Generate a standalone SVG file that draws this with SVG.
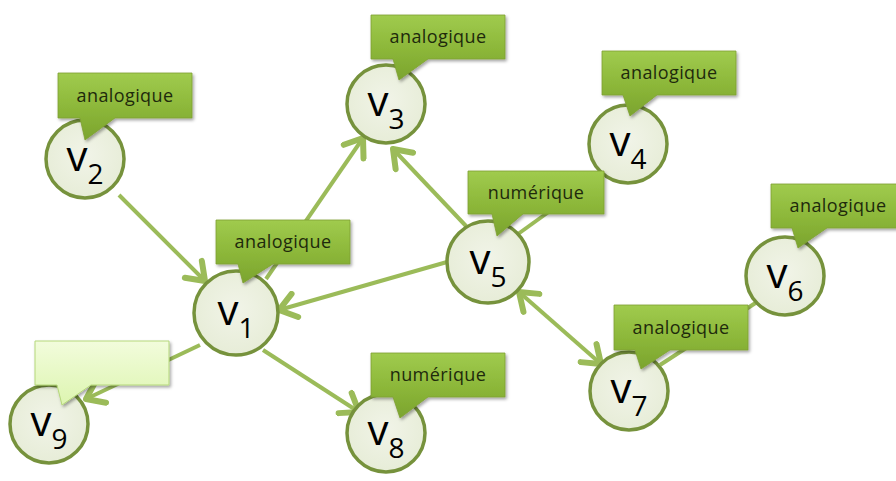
<svg xmlns="http://www.w3.org/2000/svg" width="896" height="481" viewBox="0 0 896 481">
<defs>
  <linearGradient id="gCall" x1="0" y1="0" x2="0" y2="1">
    <stop offset="0" stop-color="#A0CB4E"/>
    <stop offset="0.5" stop-color="#8DB83A"/>
    <stop offset="1" stop-color="#7BA42E"/>
  </linearGradient>
  <linearGradient id="gLight" x1="0" y1="0" x2="0" y2="1">
    <stop offset="0" stop-color="#F2FCDC"/>
    <stop offset="1" stop-color="#DDF5B0"/>
  </linearGradient>
  <radialGradient id="gNode" cx="0.5" cy="0.45" r="0.6">
    <stop offset="0" stop-color="#F1F4E8"/>
    <stop offset="1" stop-color="#E6ECD6"/>
  </radialGradient>
  <filter id="sh" x="-20%" y="-20%" width="150%" height="160%">
    <feDropShadow dx="1.5" dy="2" stdDeviation="1.8" flood-color="#000" flood-opacity="0.35"/>
  </filter>
  <marker id="arr" markerUnits="userSpaceOnUse" markerWidth="30" markerHeight="30" refX="14" refY="10" viewBox="0 0 20 20" orient="auto-start-reverse">
    <path d="M3,2 L14,10 L3,18" fill="none" stroke="#9BBB59" stroke-width="4" stroke-linecap="round" stroke-linejoin="round"/>
  </marker>
</defs>
<style>
  .edge { stroke: #9BBB59; stroke-width: 4; fill: none; }
  .node { fill: url(#gNode); stroke: #76923C; stroke-width: 3.5; }
  .lbl { font-family: "Open Sans", "Liberation Sans", sans-serif; font-size: 42px; fill: #000; text-anchor: middle; }
  .sub { font-size: 28px; }
  .call { fill: url(#gCall); stroke: #7FA034; stroke-width: 0.8; filter: url(#sh); }
  .callL { fill: url(#gLight); stroke: #B5D77A; stroke-width: 1; filter: url(#sh); }
  .ct { font-family: "Open Sans", "Liberation Sans", sans-serif; font-size: 18px; fill: #1E2A0C; text-anchor: middle; letter-spacing: 0.4px; }
</style>

<g id="connectors">
  <line class="edge" x1="119" y1="195" x2="205" y2="281" marker-end="url(#arr)"/>
  <line class="edge" x1="266" y1="279" x2="363" y2="138" marker-end="url(#arr)"/>
  <line class="edge" x1="466" y1="226" x2="393" y2="149" marker-end="url(#arr)"/>
  <line class="edge" x1="447" y1="262" x2="279" y2="310" marker-end="url(#arr)"/>
  <line class="edge" x1="263" y1="350" x2="359" y2="412" marker-end="url(#arr)"/>
  <line class="edge" x1="200" y1="345" x2="86" y2="399" marker-end="url(#arr)"/>
  <line class="edge" x1="519" y1="292" x2="601" y2="364" marker-start="url(#arr)" marker-end="url(#arr)"/>
  <line class="edge" x1="604" y1="172" x2="518" y2="234"/>
  <line class="edge" x1="757" y1="302" x2="660" y2="365"/>
</g>

<g id="v1">
  <circle class="node" cx="236" cy="313" r="42"/>
  <text class="lbl" x="236" y="325">v<tspan class="sub" dy="13">1</tspan></text>
  <path class="call" d="M216,220 H350 V264 H273 L243,283 L238,264 H216 Z"/>
  <text class="ct" x="283" y="248">analogique</text>
</g>
<g id="v2">
  <circle class="node" cx="85" cy="159" r="39"/>
  <text class="lbl" x="85" y="171">v<tspan class="sub" dy="13">2</tspan></text>
  <path class="call" d="M58,73 H192 V118 H115 L85,140 L80,118 H58 Z"/>
  <text class="ct" x="125" y="102">analogique</text>
</g>
<g id="v3">
  <circle class="node" cx="386" cy="104" r="39"/>
  <text class="lbl" x="386" y="116">v<tspan class="sub" dy="13">3</tspan></text>
  <path class="call" d="M371,15 H505 V59 H428 L399,80 L393,59 H371 Z"/>
  <text class="ct" x="438" y="43">analogique</text>
</g>
<g id="v4">
  <circle class="node" cx="628" cy="144" r="39"/>
  <text class="lbl" x="628" y="156">v<tspan class="sub" dy="13">4</tspan></text>
  <path class="call" d="M602,51 H736 V95 H657 L630,116 L623,95 H602 Z"/>
  <text class="ct" x="669" y="79">analogique</text>
</g>
<g id="v5">
  <circle class="node" cx="488" cy="262" r="41"/>
  <text class="lbl" x="488" y="274">v<tspan class="sub" dy="13">5</tspan></text>
  <path class="call" d="M468,171 H604 V214 H523 L497,236 L492,214 H468 Z"/>
  <text class="ct" x="536" y="199">numérique</text>
</g>
<g id="v6">
  <circle class="node" cx="785" cy="276" r="39"/>
  <text class="lbl" x="785" y="288">v<tspan class="sub" dy="13">6</tspan></text>
  <path class="call" d="M771,184 H905 V228 H827 L798,248 L792,228 H771 Z"/>
  <text class="ct" x="838" y="212">analogique</text>
</g>
<g id="v7">
  <circle class="node" cx="629" cy="391" r="39"/>
  <text class="lbl" x="629" y="403">v<tspan class="sub" dy="13">7</tspan></text>
  <path class="call" d="M614,305 H748 V350 H670 L641,369 L635,350 H614 Z"/>
  <text class="ct" x="681" y="334">analogique</text>
</g>
<g id="v8">
  <circle class="node" cx="386" cy="433" r="39"/>
  <text class="lbl" x="386" y="445">v<tspan class="sub" dy="13">8</tspan></text>
  <path class="call" d="M371,353 H505 V397 H428 L400,418 L393,397 H371 Z"/>
  <text class="ct" x="438" y="381">numérique</text>
</g>
<g id="v9">
  <circle class="node" cx="49" cy="424" r="39"/>
  <text class="lbl" x="49" y="436">v<tspan class="sub" dy="13">9</tspan></text>
  <path class="callL" d="M35,341 H169 V385 H91 L62,405 L57,385 H35 Z"/>
</g>
</svg>
